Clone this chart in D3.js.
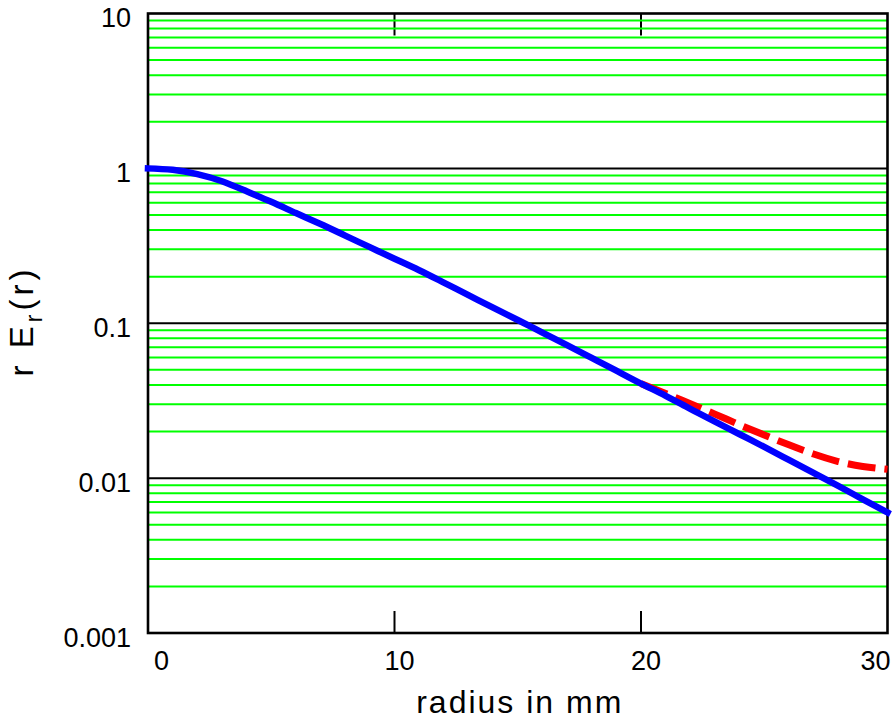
<!DOCTYPE html>
<html>
<head>
<meta charset="utf-8">
<script src="https://cdn.jsdelivr.net/npm/d3@7"></script>
<style>
  html, body { margin: 0; padding: 0; background: #fff; }
  svg { display: block; }
  text { font-family: "Liberation Sans", Arial, Helvetica, sans-serif; fill: #000; }
</style>
</head>
<body>
<svg id="chart" width="894" height="720"></svg>
<script>
// ---- data ----
const xTicks = [0, 10, 20, 30];
const xTickLabels = ["0", "10", "20", "30"];
const yTicks = [0.001, 0.01, 0.1, 1, 10];
const yTickLabels = ["0.001", "0.01", "0.1", "1", "10"];

const radius = [0,1,2,3,4,5,6,7,8,9,10,11,12,13,14,15,16,17,18,19,20,21,22,23,24,25,26,27,28,29,30];
const blueValues = [1.0,0.979,0.919,0.826,0.711,0.608,0.515,0.437,0.368,0.310,0.261,0.22,0.183,0.152,0.126,0.105,0.0871,0.0723,0.0598,0.0494,0.0408,0.034,0.028,0.0232,0.0192,0.0159,0.0131,0.0108,0.0089,0.0073,0.0060];

const redRadius = [20,21,22,23,24,25,26,27,28,29,30];
const redValues = [0.0408,0.0352,0.0302,0.0259,0.0221,0.019,0.0164,0.0143,0.0128,0.0119,0.0114];

const xLabel = "radius in mm";

// ---- layout ----
const svg = d3.select("#chart");
const pLeft = 148, pRight = 887.5, pTop = 13.5, pBottom = 633;

const x = d3.scaleLinear().domain([0, 30]).range([pLeft, pRight]);
const y = d3.scaleLog().domain([0.001, 10]).range([pBottom, pTop]);

// x ticks (inner, top & bottom) drawn under the grid
const tickG = svg.append("g");
tickG.selectAll("line.b").data([10, 20]).join("line").attr("class", "b")
  .attr("x1", d => x(d)).attr("x2", d => x(d))
  .attr("y1", pBottom).attr("y2", pBottom - 22)
  .attr("stroke", "#000").attr("stroke-width", 2);
tickG.selectAll("line.t").data([10, 20]).join("line").attr("class", "t")
  .attr("x1", d => x(d)).attr("x2", d => x(d))
  .attr("y1", pTop).attr("y2", pTop + 22)
  .attr("stroke", "#000").attr("stroke-width", 2);

// minor green grid
const minor = [];
for (let e = -3; e < 1; e++) {
  for (let m = 2; m <= 9; m++) minor.push(m * Math.pow(10, e));
}
svg.append("g").selectAll("line").data(minor).join("line")
  .attr("x1", pLeft).attr("x2", pRight)
  .attr("y1", d => y(d)).attr("y2", d => y(d))
  .attr("stroke", "#00ff00").attr("stroke-width", 2);

// major black grid
svg.append("g").selectAll("line").data([0.01, 0.1, 1]).join("line")
  .attr("x1", pLeft).attr("x2", pRight)
  .attr("y1", d => y(d)).attr("y2", d => y(d))
  .attr("stroke", "#000").attr("stroke-width", 2);

// frame
svg.append("rect")
  .attr("x", pLeft).attr("y", pTop)
  .attr("width", pRight - pLeft).attr("height", pBottom - pTop)
  .attr("fill", "none").attr("stroke", "#000").attr("stroke-width", 2.6);

// curves
const line = d3.line().x(d => x(d[0])).y(d => y(d[1])).curve(d3.curveNatural);

svg.append("path")
  .datum(redRadius.map((r, i) => [r, redValues[i]]))
  .attr("d", line)
  .attr("fill", "none").attr("stroke", "#ff0000")
  .attr("stroke-width", 7).attr("stroke-dasharray", "28,9");

svg.append("path")
  .datum(radius.map((r, i) => [r, blueValues[i]]))
  .attr("d", line)
  .attr("fill", "none").attr("stroke", "#0000ff")
  .attr("stroke-width", 6.5).attr("stroke-linecap", "square");

// y tick labels
svg.append("g").selectAll("text").data(yTicks).join("text")
  .attr("x", 131).attr("y", d => y(d) + 13.5)
  .attr("text-anchor", "end")
  .attr("font-size", 27)
  .text((d, i) => yTickLabels[i]);

// x tick labels
const xAnchor = ["start", "middle", "middle", "end"];
const xOff = [6, 5, 5, 3];
svg.append("g").selectAll("text").data(xTicks).join("text")
  .attr("x", (d, i) => x(d) + xOff[i]).attr("y", 670)
  .attr("text-anchor", (d, i) => xAnchor[i])
  .attr("font-size", 27)
  .text((d, i) => xTickLabels[i]);

// x axis title
svg.append("text")
  .attr("x", (pLeft + pRight) / 2 + 2).attr("y", 713)
  .attr("text-anchor", "middle")
  .attr("font-size", 32)
  .attr("letter-spacing", 2)
  .text(xLabel);

// y axis title: r E_r(r)
const yt = svg.append("text")
  .attr("transform", "translate(33,321) rotate(-90)")
  .attr("text-anchor", "middle")
  .attr("font-size", 33)
  .attr("letter-spacing", 4);
yt.append("tspan").text("r E");
yt.append("tspan").attr("font-size", 23).attr("dy", 9).text("r");
yt.append("tspan").attr("dy", -9).text("(r)");
</script>
</body>
</html>
